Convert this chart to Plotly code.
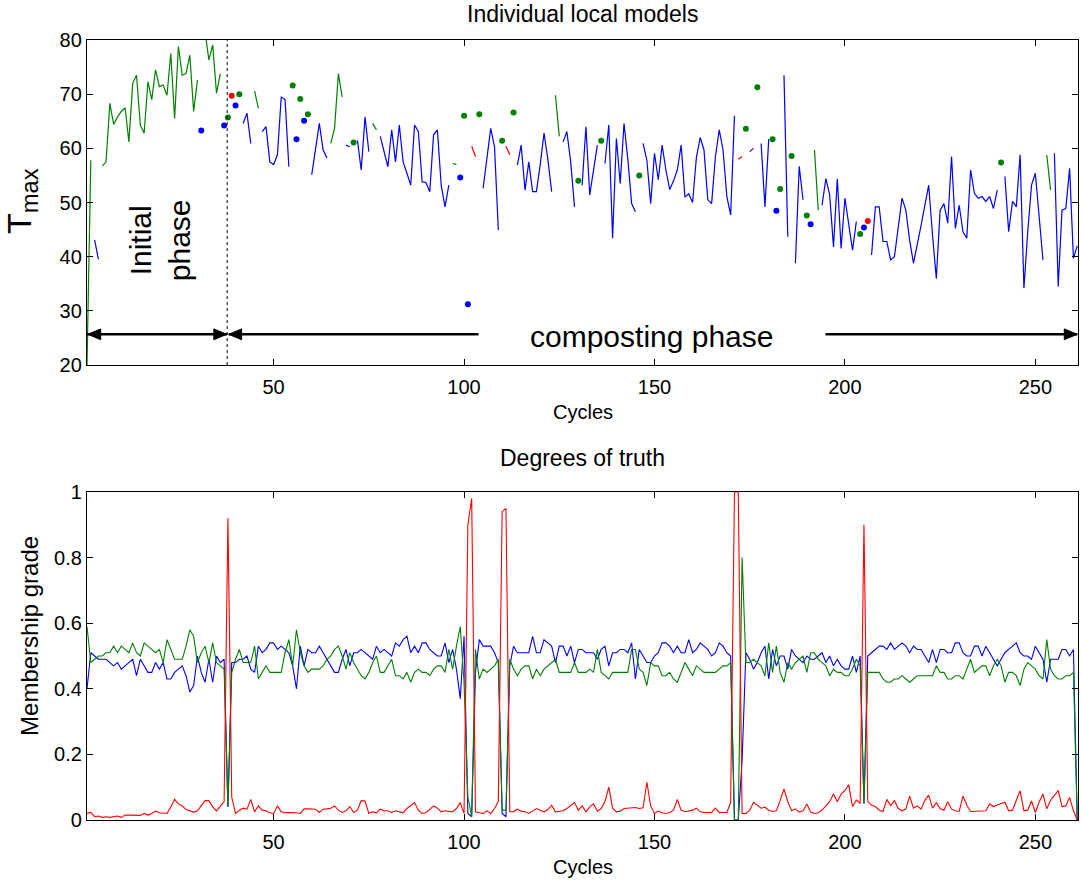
import plotly.graph_objects as go

# ---------------- data: top panel (T_max per cycle and active local model) ----------------
tmax = [
    20.0, 57.8, 43.1, 39.5, 56.7, 57.5, 68.3, 64.4, 65.8, 66.8,
    67.5, 61.2, 72.0, 73.5, 64.3, 62.8, 72.3, 69.0, 74.5, 71.4,
    71.7, 69.8, 77.5, 65.5, 78.8, 73.5, 73.8, 77.2, 66.8, 72.6,
    63.3, 81.5, 76.3, 79.1, 70.2, 73.8, 64.2, 65.7, 69.7, 67.9,
    70.0, 64.6, 66.5, 60.9, 70.6, 67.4, 63.1, 64.0, 57.5, 57.0,
    58.8, 69.5, 69.0, 56.6, 71.6, 61.7, 69.1, 65.1, 66.3, 55.1,
    59.7, 64.6, 59.7, 58.2, 60.9, 63.7, 73.8, 69.5, 60.6, 60.3,
    61.1, 61.5, 56.0, 65.8, 59.4, 64.6, 63.4, 62.2, 59.5, 56.6,
    63.4, 57.5, 64.3, 57.5, 55.4, 53.2, 64.3, 63.1, 53.8, 53.7,
    52.0, 62.5, 63.4, 53.2, 49.2, 53.2, 57.2, 57.0, 54.6, 66.0,
    31.2, 60.4, 58.5, 66.3, 52.6, 58.0, 63.7, 60.3, 44.9, 61.4,
    60.4, 58.8, 66.6, 56.9, 60.6, 52.3, 57.5, 52.0, 52.0, 57.0,
    62.8, 58.0, 52.0, 69.8, 62.2, 61.2, 63.1, 57.5, 49.2, 54.0,
    53.2, 64.0, 51.4, 56.0, 60.6, 61.4, 57.2, 64.3, 43.4, 61.8,
    53.5, 64.6, 58.0, 49.8, 48.3, 55.0, 60.9, 57.8, 49.8, 59.1,
    54.2, 60.6, 56.0, 52.4, 54.0, 56.0, 60.6, 51.0, 51.6, 50.0,
    58.3, 62.0, 59.7, 50.5, 49.8, 58.5, 63.4, 59.7, 51.1, 47.7,
    66.0, 58.0, 58.5, 63.6, 59.4, 60.0, 71.3, 60.9, 49.2, 61.7,
    61.7, 48.5, 52.5, 73.5, 43.7, 58.6, 38.8, 56.7, 50.5, 47.6,
    46.0, 59.7, 48.6, 49.5, 54.4, 51.4, 41.8, 54.4, 41.5, 50.8,
    45.8, 41.2, 46.5, 44.2, 45.4, 46.6, 40.3, 49.2, 49.2, 42.8,
    42.8, 39.4, 40.0, 45.5, 50.8, 48.6, 43.0, 38.8, 42.0, 45.8,
    49.5, 53.2, 44.0, 36.0, 48.6, 49.8, 46.2, 58.5, 45.2, 49.5,
    44.6, 43.4, 56.0, 51.7, 50.8, 51.1, 50.2, 51.1, 48.9, 52.3,
    57.4, 54.8, 44.6, 50.2, 49.2, 58.8, 34.2, 44.6, 53.2, 55.4,
    47.0, 39.4, 58.8, 52.3, 59.1, 34.5, 48.6, 48.9, 56.3, 39.7, 42.0,
]
# active model per cycle: b = blue model, g = green model, r = red model
active_model = "".join([
    "ggbbgggggg", "gggggggggg", "gggggggggg", "bgggggbgrb", "gbbbggbbbb",
    "bbbbgbgbgb", "bbbbggggbb", "gbbbbggbbb", "bbbbbbbbbb", "bbbbbbggbg",
    "brrgbbbbbg", "rrgbbbbbbb", "bbbggbbbbg", "bbbbbgbbbb", "bbbbbgbbbb",
    "bbbbbbbbbb", "bbbbbbbbbb", "brrgbbgbbb", "gbgbbgbbbg", "bggbbbbbbb",
    "bbbgbrbbbb", "bbbbbbbbbb", "bbbbbbbbbb", "bbbbbbbbbb", "gbbbbbbbbb",
    "bbggbbbbbbb",
])

# ---------------- data: bottom panel (membership grades) ----------------
mu_blue = [
    0.40, 0.51, 0.50, 0.49, 0.49, 0.49, 0.48, 0.47, 0.48, 0.46,
    0.47, 0.48, 0.49, 0.44, 0.49, 0.47, 0.45, 0.45, 0.48, 0.46,
    0.48, 0.43, 0.43, 0.45, 0.46, 0.47, 0.44, 0.39, 0.41, 0.50,
    0.45, 0.42, 0.49, 0.42, 0.50, 0.48, 0.49, 0.04, 0.48, 0.48,
    0.49, 0.49, 0.50, 0.46, 0.45, 0.53, 0.51, 0.52, 0.54, 0.54,
    0.52, 0.53, 0.52, 0.51, 0.47, 0.40, 0.53, 0.47, 0.52, 0.51,
    0.51, 0.53, 0.51, 0.49, 0.47, 0.45, 0.45, 0.49, 0.52, 0.47,
    0.51, 0.51, 0.52, 0.51, 0.50, 0.49, 0.53, 0.51, 0.52, 0.51,
    0.50, 0.54, 0.53, 0.55, 0.56, 0.51, 0.53, 0.51, 0.54, 0.54,
    0.52, 0.51, 0.50, 0.50, 0.54, 0.48, 0.52, 0.46, 0.37, 0.56,
    0.02, 0.01, 0.45, 0.55, 0.53, 0.53, 0.53, 0.51, 0.48, 0.02,
    0.01, 0.47, 0.53, 0.51, 0.51, 0.51, 0.51, 0.56, 0.51, 0.51,
    0.55, 0.54, 0.53, 0.48, 0.53, 0.53, 0.50, 0.53, 0.48, 0.52,
    0.52, 0.51, 0.51, 0.51, 0.49, 0.52, 0.53, 0.47, 0.51, 0.51,
    0.52, 0.52, 0.51, 0.54, 0.43, 0.52, 0.50, 0.48, 0.48, 0.50,
    0.51, 0.54, 0.54, 0.53, 0.51, 0.53, 0.51, 0.51, 0.55, 0.51,
    0.52, 0.54, 0.53, 0.52, 0.50, 0.51, 0.54, 0.53, 0.51, 0.50,
    0.00, 0.00, 0.18, 0.51, 0.49, 0.46, 0.48, 0.51, 0.53, 0.43,
    0.52, 0.47, 0.50, 0.50, 0.46, 0.52, 0.50, 0.49, 0.48, 0.50,
    0.49, 0.49, 0.50, 0.51, 0.48, 0.50, 0.47, 0.49, 0.47, 0.46,
    0.46, 0.50, 0.45, 0.50, 0.05, 0.50, 0.51, 0.52, 0.53, 0.53,
    0.52, 0.54, 0.52, 0.53, 0.54, 0.53, 0.51, 0.53, 0.52, 0.52,
    0.50, 0.48, 0.52, 0.48, 0.52, 0.52, 0.51, 0.51, 0.54, 0.54,
    0.51, 0.50, 0.50, 0.53, 0.53, 0.50, 0.53, 0.51, 0.49, 0.47,
    0.49, 0.51, 0.52, 0.53, 0.54, 0.51, 0.50, 0.50, 0.49, 0.53,
    0.51, 0.49, 0.42, 0.49, 0.49, 0.49, 0.52, 0.52, 0.50, 0.52, 0.00,
]
mu_green = [
    0.59, 0.48, 0.49, 0.50, 0.50, 0.51, 0.51, 0.53, 0.51, 0.53,
    0.52, 0.51, 0.54, 0.51, 0.50, 0.54, 0.53, 0.52, 0.51, 0.52,
    0.48, 0.55, 0.52, 0.49, 0.49, 0.49, 0.53, 0.58, 0.56, 0.48,
    0.51, 0.53, 0.48, 0.54, 0.48, 0.47, 0.46, 0.04, 0.45, 0.49,
    0.52, 0.48, 0.48, 0.48, 0.53, 0.43, 0.45, 0.47, 0.45, 0.45,
    0.45, 0.45, 0.51, 0.55, 0.47, 0.58, 0.51, 0.47, 0.45, 0.46,
    0.46, 0.46, 0.47, 0.49, 0.50, 0.52, 0.53, 0.50, 0.46, 0.51,
    0.48, 0.46, 0.44, 0.43, 0.45, 0.48, 0.50, 0.45, 0.45, 0.47,
    0.49, 0.44, 0.44, 0.43, 0.45, 0.42, 0.45, 0.46, 0.45, 0.45,
    0.44, 0.46, 0.47, 0.47, 0.45, 0.52, 0.46, 0.53, 0.59, 0.42,
    0.07, 0.01, 0.52, 0.43, 0.46, 0.45, 0.46, 0.47, 0.49, 0.03,
    0.03, 0.49, 0.46, 0.44, 0.46, 0.47, 0.47, 0.43, 0.46, 0.44,
    0.46, 0.47, 0.48, 0.49, 0.45, 0.45, 0.45, 0.45, 0.48, 0.45,
    0.45, 0.45, 0.46, 0.45, 0.52, 0.45, 0.44, 0.43, 0.45, 0.45,
    0.45, 0.45, 0.45, 0.52, 0.52, 0.46, 0.45, 0.41, 0.48, 0.47,
    0.47, 0.44, 0.44, 0.45, 0.43, 0.42, 0.45, 0.48, 0.46, 0.44,
    0.47, 0.46, 0.45, 0.45, 0.45, 0.45, 0.46, 0.47, 0.47, 0.48,
    0.00, 0.00, 0.80, 0.48, 0.48, 0.49, 0.48, 0.47, 0.44, 0.54,
    0.45, 0.53, 0.45, 0.42, 0.48, 0.46, 0.48, 0.49, 0.50, 0.45,
    0.51, 0.51, 0.49, 0.48, 0.47, 0.44, 0.46, 0.45, 0.45, 0.44,
    0.44, 0.46, 0.49, 0.47, 0.05, 0.45, 0.45, 0.45, 0.45, 0.43,
    0.42, 0.42, 0.43, 0.43, 0.44, 0.43, 0.42, 0.43, 0.44, 0.44,
    0.44, 0.44, 0.44, 0.47, 0.45, 0.45, 0.43, 0.43, 0.44, 0.44,
    0.43, 0.46, 0.49, 0.45, 0.46, 0.47, 0.47, 0.44, 0.47, 0.49,
    0.47, 0.42, 0.45, 0.45, 0.44, 0.41, 0.46, 0.48, 0.47, 0.46,
    0.44, 0.43, 0.55, 0.46, 0.44, 0.43, 0.43, 0.44, 0.44, 0.45, 0.00,
]
mu_red = [
    0.020, 0.023, 0.010, 0.012, 0.008, 0.010, 0.008, 0.010, 0.012, 0.008,
    0.015, 0.015, 0.014, 0.015, 0.014, 0.020, 0.015, 0.020, 0.027, 0.022,
    0.020, 0.020, 0.040, 0.063, 0.049, 0.043, 0.032, 0.029, 0.024, 0.028,
    0.045, 0.059, 0.059, 0.040, 0.028, 0.043, 0.056, 0.920, 0.070, 0.020,
    0.030, 0.036, 0.033, 0.063, 0.025, 0.043, 0.030, 0.028, 0.022, 0.020,
    0.043, 0.025, 0.022, 0.023, 0.023, 0.022, 0.020, 0.034, 0.034, 0.034,
    0.033, 0.023, 0.033, 0.034, 0.036, 0.043, 0.030, 0.023, 0.028, 0.041,
    0.023, 0.030, 0.059, 0.058, 0.020, 0.025, 0.022, 0.033, 0.028, 0.028,
    0.023, 0.028, 0.025, 0.022, 0.035, 0.043, 0.053, 0.030, 0.020, 0.022,
    0.033, 0.043, 0.036, 0.025, 0.028, 0.027, 0.025, 0.035, 0.053, 0.020,
    0.900, 0.980, 0.025, 0.022, 0.020, 0.028, 0.020, 0.035, 0.056, 0.940,
    0.950, 0.025, 0.025, 0.033, 0.027, 0.025, 0.020, 0.027, 0.035, 0.030,
    0.025, 0.032, 0.045, 0.025, 0.027, 0.028, 0.035, 0.045, 0.053, 0.030,
    0.043, 0.025, 0.040, 0.049, 0.027, 0.035, 0.056, 0.100, 0.036, 0.025,
    0.027, 0.035, 0.036, 0.038, 0.038, 0.035, 0.037, 0.115, 0.043, 0.020,
    0.027, 0.022, 0.020, 0.023, 0.030, 0.063, 0.030, 0.025, 0.028, 0.030,
    0.036, 0.025, 0.023, 0.023, 0.023, 0.036, 0.023, 0.023, 0.023, 0.053,
    1.000, 1.000, 0.020, 0.020, 0.030, 0.054, 0.046, 0.036, 0.039, 0.030,
    0.026, 0.028, 0.060, 0.095, 0.056, 0.028, 0.034, 0.024, 0.028, 0.049,
    0.024, 0.020, 0.022, 0.030, 0.043, 0.056, 0.079, 0.056, 0.079, 0.090,
    0.107, 0.041, 0.061, 0.051, 0.900, 0.056, 0.045, 0.041, 0.030, 0.026,
    0.063, 0.044, 0.059, 0.035, 0.028, 0.034, 0.073, 0.036, 0.043, 0.033,
    0.060, 0.076, 0.036, 0.053, 0.035, 0.030, 0.056, 0.033, 0.028, 0.026,
    0.073, 0.045, 0.026, 0.027, 0.026, 0.027, 0.028, 0.049, 0.041, 0.046,
    0.050, 0.054, 0.028, 0.030, 0.060, 0.089, 0.028, 0.030, 0.058, 0.023,
    0.055, 0.079, 0.034, 0.061, 0.075, 0.090, 0.041, 0.043, 0.069, 0.028, 0.000,
]

top_yticks = [20, 30, 40, 50, 60, 70, 80]
x_ticks = [50, 100, 150, 200, 250]
bot_yticks = [0, 0.2, 0.4, 0.6, 0.8, 1]
bot_yticktext = ["0", "0.2", "0.4", "0.6", "0.8", "1"]

phase_split = 37.8          # end of the initial phase (dotted line)
arrow_level = 25.67         # T value of the phase arrows

COL = {"b": "#0000ff", "g": "#008000", "r": "#ff0000"}
FONT = "Liberation Sans, Arial, Helvetica, sans-serif"

fig = go.Figure()

# ---------------- top panel ----------------
n = len(tmax)
cycles = list(range(1, n + 1))
for m in ["b", "g", "r"]:
    yl = [t if active_model[i] == m else None for i, t in enumerate(tmax)]
    fig.add_trace(go.Scatter(x=cycles, y=yl, mode="lines", connectgaps=False,
                             line=dict(color=COL[m], width=1.2),
                             xaxis="x", yaxis="y", showlegend=False, hoverinfo="skip"))
    iso_x, iso_y = [], []
    for i in range(n):
        if active_model[i] != m:
            continue
        prev_same = i > 0 and active_model[i - 1] == m
        next_same = i < n - 1 and active_model[i + 1] == m
        if not prev_same and not next_same:
            iso_x.append(cycles[i])
            iso_y.append(tmax[i])
    fig.add_trace(go.Scatter(x=iso_x, y=iso_y, mode="markers",
                             marker=dict(color=COL[m], size=6, line=dict(width=0)),
                             xaxis="x", yaxis="y", showlegend=False, hoverinfo="skip"))

# ---------------- bottom panel ----------------
for vals, m in [(mu_blue, "b"), (mu_green, "g"), (mu_red, "r")]:
    fig.add_trace(go.Scatter(x=list(range(1, len(vals) + 1)), y=vals, mode="lines",
                             line=dict(color=COL[m], width=1.1),
                             xaxis="x2", yaxis="y2", showlegend=False, hoverinfo="skip"))

axis_common = dict(showline=True, linecolor="black", linewidth=1.3, mirror="ticks",
                   ticks="inside", ticklen=6, tickwidth=1, tickcolor="black",
                   showgrid=False, zeroline=False,
                   tickfont=dict(family=FONT, size=20, color="black"))

fig.update_layout(
    width=1082, height=882,
    margin=dict(l=87, r=4, t=40, b=62),
    paper_bgcolor="white", plot_bgcolor="white",
    font=dict(family=FONT, color="black"),
    xaxis=dict(axis_common, range=[1, 261.2], tickvals=x_ticks, domain=[0, 1],
               anchor="y", ticklabelstandoff=4),
    yaxis=dict(axis_common, range=[20, 80], tickvals=top_yticks,
               domain=[0.5833, 1], anchor="x"),
    xaxis2=dict(axis_common, range=[1, 261.2], tickvals=x_ticks, domain=[0, 1],
                anchor="y2", ticklabelstandoff=4),
    yaxis2=dict(axis_common, range=[0, 1], tickvals=bot_yticks, ticktext=bot_yticktext,
                domain=[0, 0.4205], anchor="x2"),
)

# ---------------- phase markers ----------------
hl, hh = 3.4, 1.0   # arrowhead length (cycles) and half-height (T units)
shapes = [
    dict(type="line", xref="x", yref="y", x0=phase_split, x1=phase_split, y0=20, y1=80,
         line=dict(color="black", width=1, dash="dot")),
]

def seg(x0, x1):
    return dict(type="line", xref="x", yref="y", x0=x0, x1=x1, y0=arrow_level, y1=arrow_level,
                line=dict(color="black", width=2.4))

def head(tip, direction):
    base = tip - direction * hl
    return dict(type="path", xref="x", yref="y", fillcolor="black", line=dict(color="black", width=1),
                path=f"M {tip},{arrow_level} L {base},{arrow_level + hh} L {base},{arrow_level - hh} Z")

shapes += [seg(1, phase_split), head(1.2, -1), head(phase_split - 0.1, 1),
           seg(phase_split + 0.4, 103.8), head(phase_split + 0.4, -1),
           seg(194.9, 261), head(261, 1)]
fig.update_layout(shapes=shapes)

ann = [
    dict(text="Individual local models", xref="paper", yref="paper", x=0.5, y=1.0333,
         showarrow=False, font=dict(size=23), xanchor="center", yanchor="middle"),
    dict(text="Degrees of truth", xref="paper", yref="paper", x=0.5, y=0.4641,
         showarrow=False, font=dict(size=23), xanchor="center", yanchor="middle"),
    dict(text="Cycles", xref="paper", yref="paper", x=0.5, y=0.5231,
         showarrow=False, font=dict(size=20), xanchor="center", yanchor="middle"),
    dict(text="Cycles", xref="paper", yref="paper", x=0.5, y=-0.0603,
         showarrow=False, font=dict(size=20), xanchor="center", yanchor="middle"),
    dict(text="T<sub>max</sub>", xref="paper", yref="paper", x=-0.0656, y=0.7936,
         showarrow=False, font=dict(size=34), textangle=-90, xanchor="center", yanchor="middle"),
    dict(text="Membership grade", xref="paper", yref="paper", x=-0.0575, y=0.236,
         showarrow=False, font=dict(size=24), textangle=-90, xanchor="center", yanchor="middle"),
    dict(text="Initial<br>phase", xref="x", yref="y", x=20.25, y=43.1,
         showarrow=False, font=dict(size=30), textangle=-90, xanchor="center", yanchor="middle"),
    dict(text="composting phase", xref="x", yref="y", x=149.4, y=25.2,
         showarrow=False, font=dict(size=30), xanchor="center", yanchor="middle"),
]
fig.update_layout(annotations=ann)

# remove the browser's default 8px body margin so the figure fills the window exactly
fig.write_html("out.html", config={"displayModeBar": False},
               post_script="document.body.style.margin='0px';document.body.style.overflow='hidden';")
